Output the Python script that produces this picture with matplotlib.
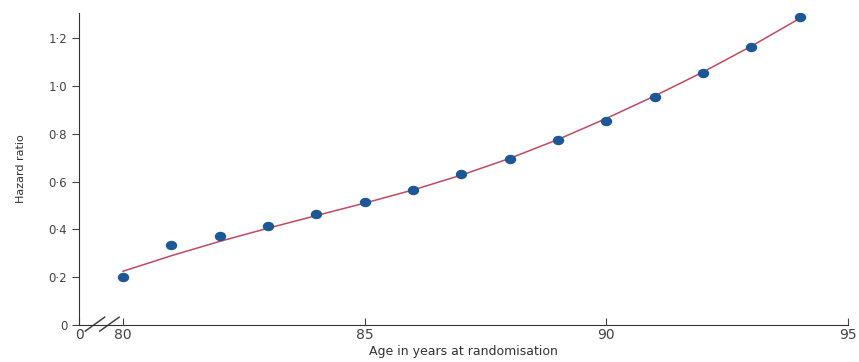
import matplotlib.pyplot as plt
from matplotlib.path import Path
from matplotlib.transforms import Affine2D

# age at randomisation and observed hazard ratios
ages = [80, 81, 82, 83, 84, 85, 86, 87, 88, 89, 90, 91, 92, 93, 94]
hr_points = [0.20, 0.335, 0.372, 0.414, 0.464, 0.515, 0.565, 0.632, 0.695,
             0.774, 0.854, 0.954, 1.054, 1.163, 1.289]
# fitted curve
hr_fit = [0.225, 0.29, 0.35, 0.405, 0.458, 0.51, 0.565, 0.627, 0.697,
          0.776, 0.864, 0.958, 1.058, 1.166, 1.282]

x_zero = 79.09  # where "0" sits on the broken axis

# slightly flattened dot, like the original
oval = Path.unit_circle().transformed(Affine2D().scale(1.25, 1.0))

fig = plt.figure(figsize=(8.59, 3.62), dpi=100)
ax = fig.add_axes([0.092, 0.102, 0.895, 0.862])

ax.plot(ages, hr_fit, color='#c4485f', linewidth=1.1, zorder=2)
ax.scatter(ages, hr_points, s=52, color='#1c5796', marker=oval, zorder=3)

ax.set_xlim(x_zero, 95)
ax.set_ylim(0, 1.305)

ax.set_xticks([x_zero, 80, 85, 90, 95])
ax.set_xticklabels(['0', '80', '85', '90', '95'])
ax.set_yticks([0, 0.2, 0.4, 0.6, 0.8, 1.0, 1.2])
ax.set_yticklabels(['0', '0·2', '0·4', '0·6', '0·8', '1·0', '1·2'])

for s in ['top', 'right']:
    ax.spines[s].set_visible(False)
ax.spines['left'].set_color('#333333')
ax.spines['bottom'].set_color('#333333')

ax.tick_params(axis='y', direction='out', length=5, labelsize=8.5, colors='#444444')
ax.tick_params(axis='x', direction='in', length=5, labelsize=10, colors='#444444', pad=2)

# axis break marks
for bx in [79.42, 79.72]:
    ax.plot([bx - 0.2, bx + 0.2], [-0.025, 0.033], color='#444444', lw=1.1, clip_on=False)

ax.set_ylabel('Hazard ratio', fontsize=8, color='#333333', labelpad=16)
ax.set_xlabel('Age in years at randomisation', fontsize=9, color='#333333', labelpad=2)

plt.savefig('out.png', dpi=100)
